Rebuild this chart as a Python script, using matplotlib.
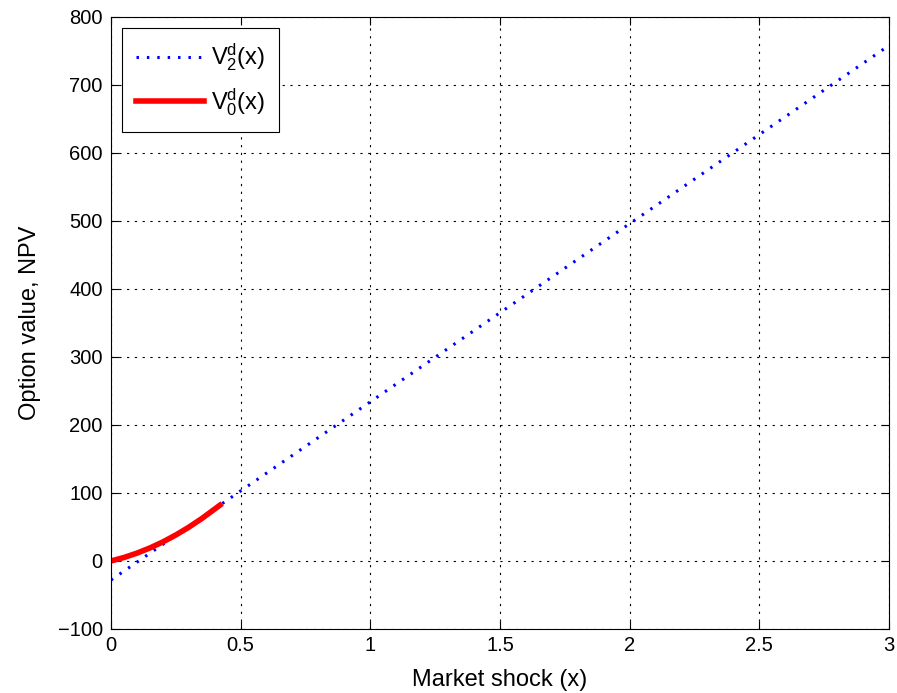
import matplotlib
matplotlib.use('Agg')
import matplotlib.pyplot as plt
import numpy as np

plt.rcParams['font.family'] = ['Liberation Sans', 'DejaVu Sans']
plt.rcParams['mathtext.fontset'] = 'custom'
plt.rcParams['mathtext.rm'] = 'Liberation Sans'
plt.rcParams['mathtext.it'] = 'Liberation Sans'

# V2^d(x): straight line over the whole range
x_v2 = [0.0, 3.0]
y_v2 = [-28.0, 758.0]

# V0^d(x): curve on the low x range
x_v0 = [0.0, 0.05, 0.1, 0.15, 0.2, 0.25, 0.3, 0.35, 0.42]
y_v0 = [0.0, 5.1, 11.5, 19.1, 28.0, 38.2, 49.6, 62.3, 82.0]

fig = plt.figure(figsize=(8.97, 6.93), dpi=100)
ax = fig.add_axes([0.1237, 0.0924, 0.8673, 0.8831])

ax.plot(x_v2, y_v2, color='blue', linestyle=(0, (0.8, 2.6)), linewidth=2.2,
        label=r'V$^{\rm d}_{\rm 2}$(x)')
ax.plot(x_v0, y_v0, color='red', linewidth=4, label=r'V$^{\rm d}_{\rm 0}$(x)')

ax.set_xlim(0, 3)
ax.set_ylim(-100, 800)
ax.set_xticks([0, 0.5, 1, 1.5, 2, 2.5, 3])
ax.set_xticklabels(['0', '0.5', '1', '1.5', '2', '2.5', '3'])
ax.set_yticks(np.arange(-100, 801, 100))
ax.set_yticklabels(['\u2212100'] + [str(v) for v in range(0, 801, 100)])

ax.grid(True, color='black', linestyle=(0, (2, 5)), linewidth=0.8)
ax.tick_params(direction='in', top=True, right=True, labelsize=14.5, length=6)
ax.tick_params(axis='y', pad=6)
ax.tick_params(axis='x', pad=5)
for s in ax.spines.values():
    s.set_linewidth(0.8)

ax.set_xlabel('Market shock (x)', fontsize=17, labelpad=10)
ax.set_ylabel('Option value, NPV', fontsize=17, labelpad=12)

leg = ax.legend(loc='upper left', fontsize=17, fancybox=False, framealpha=1,
                edgecolor='black', handlelength=2.9, handletextpad=0.3,
                borderpad=0.6, labelspacing=0.55, borderaxespad=0.45)
leg.get_frame().set_linewidth(0.8)

fig.savefig('out.png', dpi=100)
